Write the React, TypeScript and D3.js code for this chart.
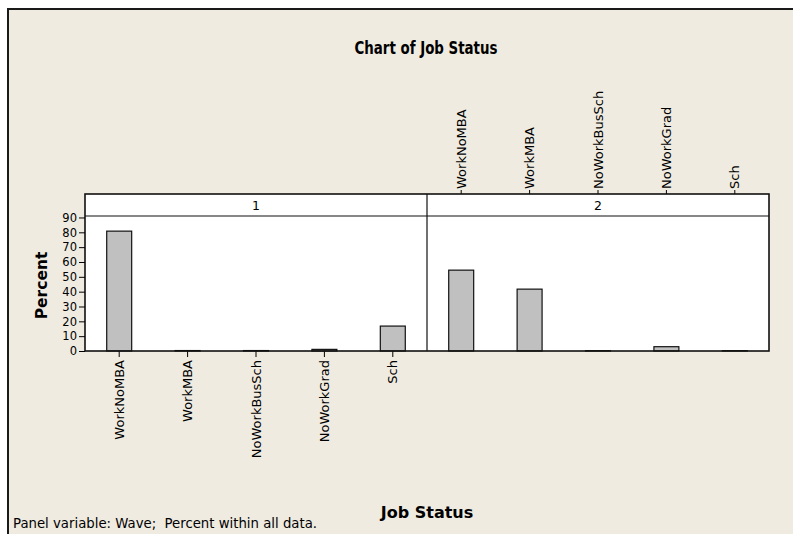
import React, { useEffect, useRef } from "react";
import * as d3 from "d3";

const categories = ["WorkNoMBA", "WorkMBA", "NoWorkBusSch", "NoWorkGrad", "Sch"];
const panels = ["1", "2"];
const wave1 = [80.8, 0.3, 0.3, 1.1, 16.8];
const wave2 = [54.5, 41.7, 0.2, 2.9, 0.2];
const yTicks = [0, 10, 20, 30, 40, 50, 60, 70, 80, 90];

const FONT = "'DejaVu Sans', Verdana, sans-serif";

const App = () => {
  const svgRef = useRef<SVGSVGElement>(null);

  useEffect(() => {
    const width = 793;
    const height = 534;
    const svg = d3.select(svgRef.current);
    svg.selectAll("*").remove();

    // background + frame
    svg.append("rect").attr("width", width).attr("height", height).attr("fill", "#ffffff");
    svg
      .append("rect")
      .attr("x", 8)
      .attr("y", 9)
      .attr("width", width + 10)
      .attr("height", height + 10)
      .attr("fill", "#efebe0")
      .attr("stroke", "#1a1a1a")
      .attr("stroke-width", 2);

    svg
      .append("text")
      .attr("x", 426)
      .attr("y", 54)
      .attr("text-anchor", "middle")
      .attr("font-family", FONT)
      .attr("font-weight", "bold")
      .attr("font-size", 18.5)
      .attr("textLength", 143)
      .attr("lengthAdjust", "spacingAndGlyphs")
      .text("Chart of Job Status");

    const left = 85;
    const right = 769;
    const stripTop = 194;
    const plotTop = 216;
    const plotBottom = 351;

    const panelX = d3.scaleBand().domain(panels).range([left, right]);

    const y = d3.scaleLinear().domain([0, 91]).range([plotBottom, plotTop]);

    svg
      .append("rect")
      .attr("x", left)
      .attr("y", stripTop)
      .attr("width", right - left)
      .attr("height", plotBottom - stripTop)
      .attr("fill", "#ffffff");

    const data = [wave1, wave2];

    panels.forEach((p, i) => {
      const px = panelX(p)!;
      const pw = panelX.bandwidth();
      const x = d3
        .scaleBand()
        .domain(categories)
        .range([px, px + pw])
        .paddingInner(0.635)
        .paddingOuter(0.3175);

      const g = svg.append("g");

      g.selectAll("rect.bar")
        .data(data[i])
        .join("rect")
        .attr("class", "bar")
        .attr("x", (_, j) => x(categories[j])!)
        .attr("y", (d) => y(d))
        .attr("width", x.bandwidth())
        .attr("height", (d) => plotBottom - y(d))
        .attr("fill", "#c0c0c0")
        .attr("stroke", "#111")
        .attr("stroke-width", 1.2);

      g.append("text")
        .attr("x", px + pw / 2)
        .attr("y", (stripTop + plotTop) / 2)
        .attr("dy", "0.36em")
        .attr("text-anchor", "middle")
        .attr("font-family", FONT)
        .attr("font-size", 12.5)
        .text(p);

      // first panel gets labels below, second on top
      if (i === 0) {
        const ax = svg
          .append("g")
          .attr("transform", `translate(0,${plotBottom})`)
          .call(d3.axisBottom(x).tickSize(6).tickSizeOuter(0));
        ax.select(".domain").remove();
        ax.selectAll("text")
          .attr("transform", "rotate(-90)")
          .attr("text-anchor", "end")
          .attr("x", -9)
          .attr("y", 0)
          .attr("dy", "0.35em")
          .attr("font-family", FONT)
          .attr("font-size", 13)
          .attr("fill", "#000");
      } else {
        const ax = svg
          .append("g")
          .attr("transform", `translate(0,${stripTop})`)
          .call(d3.axisTop(x).tickSize(4).tickSizeOuter(0));
        ax.select(".domain").remove();
        ax.selectAll("text")
          .attr("transform", "rotate(-90)")
          .attr("text-anchor", "start")
          .attr("x", 5)
          .attr("y", 0)
          .attr("dy", "0.35em")
          .attr("font-family", FONT)
          .attr("font-size", 13)
          .attr("fill", "#000");
      }
    });

    // frames
    svg
      .append("rect")
      .attr("x", left)
      .attr("y", stripTop)
      .attr("width", right - left)
      .attr("height", plotBottom - stripTop)
      .attr("fill", "none")
      .attr("stroke", "#111")
      .attr("stroke-width", 1.6);
    svg
      .append("line")
      .attr("x1", left)
      .attr("x2", right)
      .attr("y1", plotTop)
      .attr("y2", plotTop)
      .attr("stroke", "#111")
      .attr("stroke-width", 1.2);
    svg
      .append("line")
      .attr("x1", panelX("2")!)
      .attr("x2", panelX("2")!)
      .attr("y1", stripTop)
      .attr("y2", plotBottom)
      .attr("stroke", "#111")
      .attr("stroke-width", 1.2);

    // y axis
    const yAx = svg
      .append("g")
      .attr("transform", `translate(${left},0)`)
      .call(d3.axisLeft(y).tickValues(yTicks).tickSize(6).tickPadding(2));
    yAx.select(".domain").remove();
    yAx.selectAll("text").attr("font-family", FONT).attr("font-size", 11.5).attr("fill", "#000");

    svg
      .append("text")
      .attr("transform", `translate(47,${(plotTop + plotBottom) / 2 + 2}) rotate(-90)`)
      .attr("text-anchor", "middle")
      .attr("font-family", FONT)
      .attr("font-weight", "bold")
      .attr("font-size", 15.5)
      .text("Percent");

    svg
      .append("text")
      .attr("x", 427)
      .attr("y", 518)
      .attr("text-anchor", "middle")
      .attr("font-family", FONT)
      .attr("font-weight", "bold")
      .attr("font-size", 16)
      .text("Job Status");

    svg
      .append("text")
      .attr("x", 13)
      .attr("y", 528)
      .attr("font-family", FONT)
      .attr("font-size", 14.5)
      .attr("textLength", 304)
      .attr("lengthAdjust", "spacingAndGlyphs")
      .style("white-space", "pre")
      .text("Panel variable: Wave;  Percent within all data.");
  }, []);

  return (
    <svg
      ref={svgRef}
      width={793}
      height={534}
      style={{ position: "absolute", left: 0, top: 0 }}
    ></svg>
  );
};

export default App;
